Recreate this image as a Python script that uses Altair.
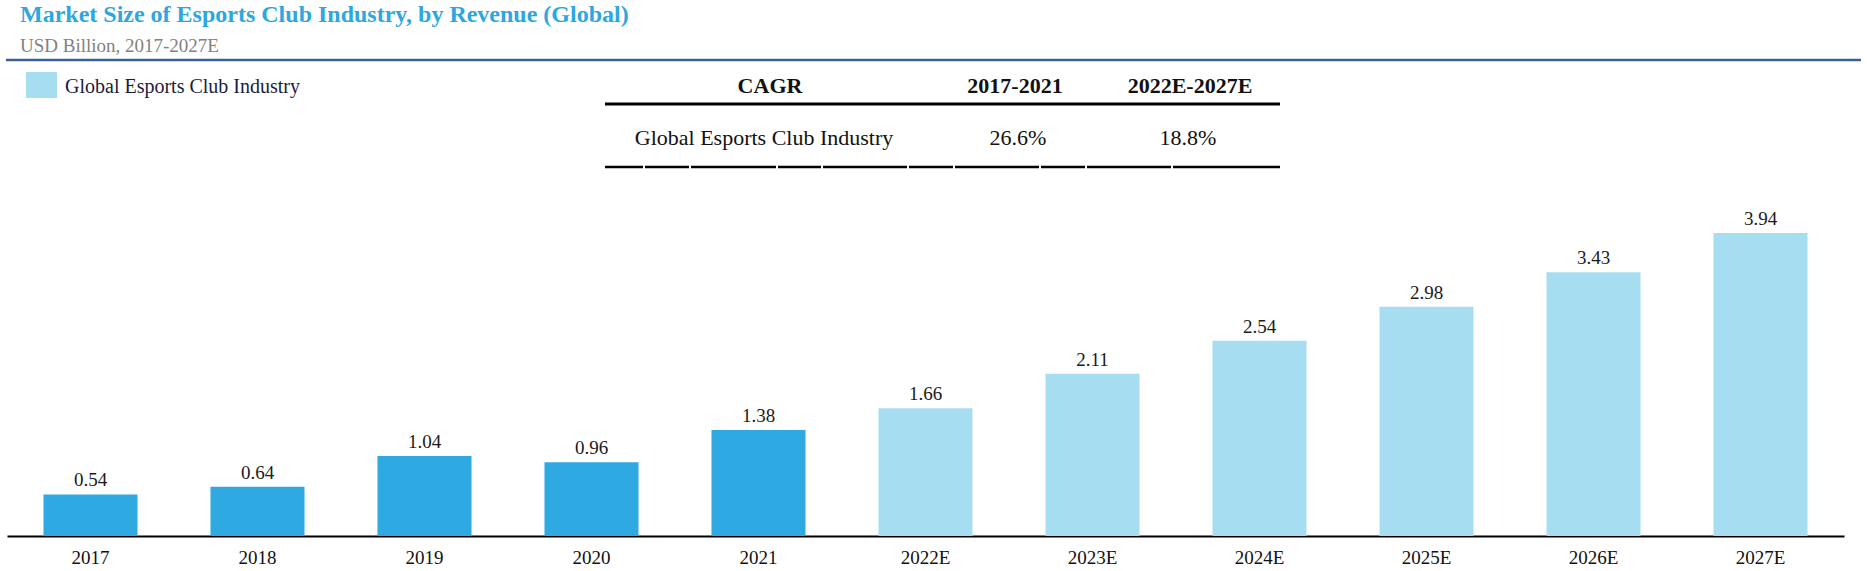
import altair as alt
import pandas as pd

# ---- data ----
years = ["2017", "2018", "2019", "2020", "2021", "2022E", "2023E", "2024E", "2025E", "2026E", "2027E"]
revenue = [0.54, 0.64, 1.04, 0.96, 1.38, 1.66, 2.11, 2.54, 2.98, 3.43, 3.94]
series_name = "Global Esports Club Industry"
title_text = "Market Size of Esports Club Industry, by Revenue (Global)"
subtitle_text = "USD Billion, 2017-2027E"
cagr_headers = ["CAGR", "2017-2021", "2022E-2027E"]
cagr_row = ["Global Esports Club Industry", "26.6%", "18.8%"]

HIST = "#2EA9E1"
FCST = "#A7DDF1"
FONT = "Liberation Serif"

df = pd.DataFrame({
    "year": years,
    "revenue": revenue,
    "phase": ["Forecast" if y.endswith("E") else "Historical" for y in years],
})

one = pd.DataFrame({"k": [0]})

x_enc = alt.X(
    "year:N", sort=years,
    scale=alt.Scale(paddingInner=0.437, paddingOuter=0.2185),
    axis=alt.Axis(title=None, labelAngle=0, ticks=False, tickSize=0, labelPadding=12,
                  labelFont=FONT, labelFontSize=19, labelColor="#111111",
                  domainColor="#000000", domainWidth=2, grid=False),
)
y_enc = alt.Y("revenue:Q", scale=alt.Scale(domain=[0, 4.5], nice=False), axis=None)

bars = alt.Chart(df).mark_bar().encode(
    x=x_enc, y=y_enc,
    color=alt.Color("phase:N", scale=alt.Scale(domain=["Historical", "Forecast"], range=[HIST, FCST]), legend=None),
)
labels = alt.Chart(df).mark_text(font=FONT, fontSize=19, color="#1a1a1a", baseline="alphabetic", dy=-8).encode(
    x=alt.X("year:N", sort=years), y="revenue:Q", text=alt.Text("revenue:Q", format=".2f")
)


def txt(s, x, y, size, color="#111111", weight="normal", align="left"):
    return alt.Chart(pd.DataFrame({"t": [s]})).mark_text(
        font=FONT, fontSize=size, color=color, fontWeight=weight, align=align, baseline="alphabetic"
    ).encode(x=alt.value(x), y=alt.value(y), text="t:N")


def hrule(x1, x2, y, color, width, dash=None):
    kw = dict(color=color, strokeWidth=width)
    if dash is not None:
        kw["strokeDash"] = dash
    return alt.Chart(one).mark_rule(**kw).encode(x=alt.value(x1), x2=alt.value(x2), y=alt.value(y))


title = txt(title_text, 13, -168, 24, color="#2EA7E0", weight="bold")
subtitle = txt(subtitle_text, 13, -138, 19, color="#857f80")
top_rule = hrule(-1, 1854, -130, "#3E5F93", 2.5)

legend_sq = alt.Chart(pd.DataFrame({"s": [series_name]})).mark_rect(color=FCST).encode(
    x=alt.value(19), x2=alt.value(50), y=alt.value(-118), y2=alt.value(-92)
)
legend_txt = txt(series_name, 58, -97, 20, color="#1c1c3c")

h1 = txt(cagr_headers[0], 763, -97, 22, weight="bold", align="center")
h2 = txt(cagr_headers[1], 1008, -97, 22, weight="bold", align="center")
h3 = txt(cagr_headers[2], 1183, -97, 22, weight="bold", align="center")
head_rule = hrule(598, 1273, -86, "#000000", 3)
r1 = txt(cagr_row[0], 757, -45, 22, align="center")
r2 = txt(cagr_row[1], 1011, -45, 22, align="center")
r3 = txt(cagr_row[2], 1181, -45, 22, align="center")
bottom_rule = hrule(598, 1273, -23, "#000000", 2.5,
                    dash=[38, 2, 44, 2, 85, 2, 43, 2, 84, 2, 44, 2, 84, 2, 44, 2, 84, 2, 109])

chart = alt.layer(
    bars, labels, title, subtitle, top_rule, legend_sq, legend_txt,
    h1, h2, h3, head_rule, r1, r2, r3, bottom_rule,
).properties(
    width=1837, height=346,
    autosize=alt.AutoSizeParams(type="none"),
    padding={"left": 7, "top": 190, "right": 23, "bottom": 35},
    background="white",
).configure_view(stroke=None)

chart.save("out.html", embed_options={"renderer": "svg", "actions": False})
